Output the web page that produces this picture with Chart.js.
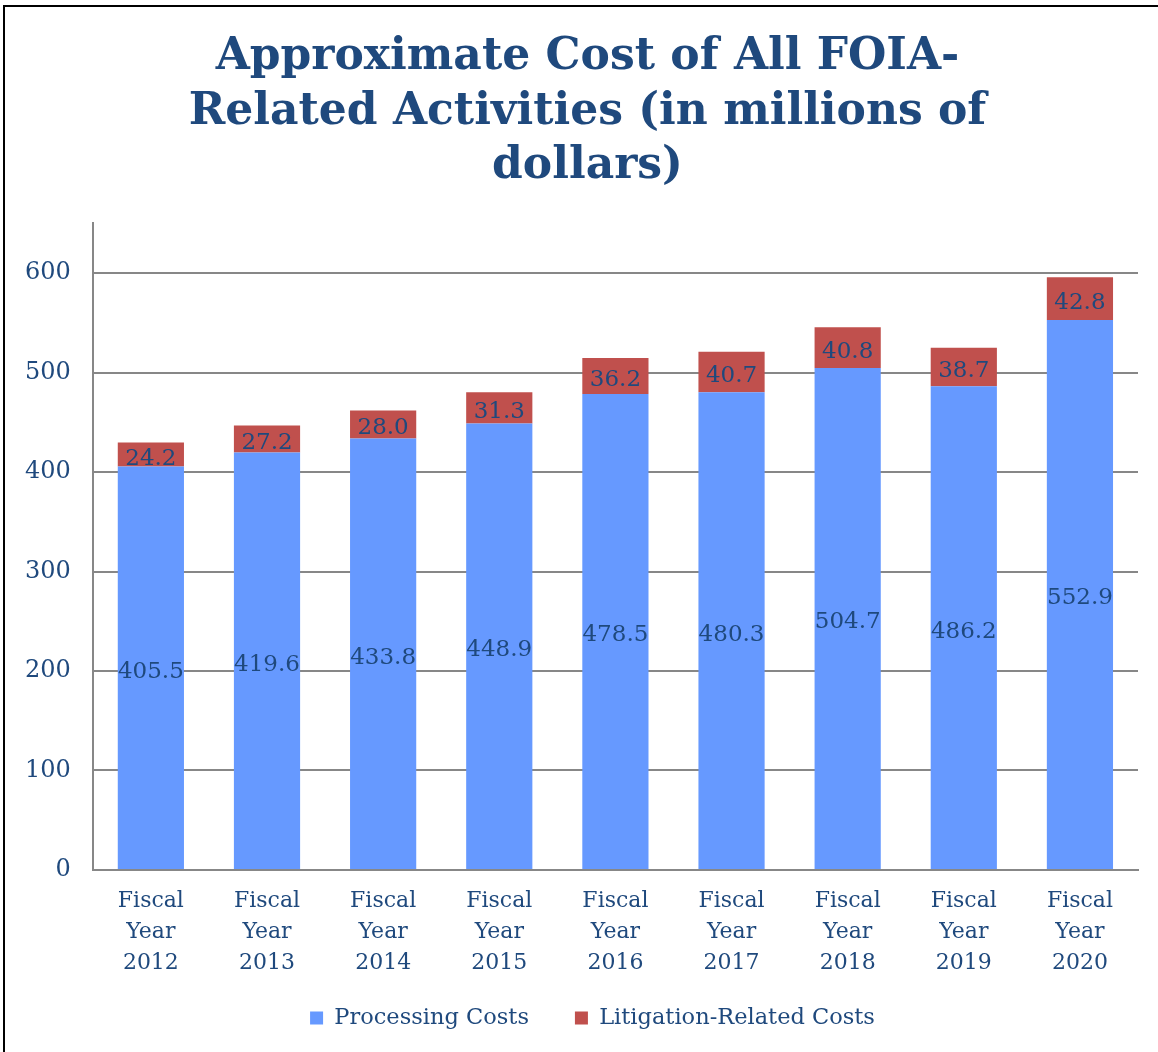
<!DOCTYPE html>
<html>
<head>
<meta charset="utf-8">
<script src="https://cdn.jsdelivr.net/npm/chart.js@4"></script>
<style>
  html, body { margin: 0; padding: 0; background: #fff; }
  #wrap { position: relative; width: 1158px; height: 1052px; }
  #frame { position: absolute; left: 3px; top: 5px; width: 1200px; height: 1100px; border: 2px solid #000; pointer-events: none; }
</style>
</head>
<body>
<div id="wrap">
  <canvas id="grafico" width="1158" height="1052"></canvas>
  <div id="frame"></div>
</div>
<script>
const anos = [
  ['Fiscal', 'Year', '2012'], ['Fiscal', 'Year', '2013'], ['Fiscal', 'Year', '2014'],
  ['Fiscal', 'Year', '2015'], ['Fiscal', 'Year', '2016'], ['Fiscal', 'Year', '2017'],
  ['Fiscal', 'Year', '2018'], ['Fiscal', 'Year', '2019'], ['Fiscal', 'Year', '2020']
];
const processamento = [405.5, 419.6, 433.8, 448.9, 478.5, 480.3, 504.7, 486.2, 552.9];
const litigio = [24.2, 27.2, 28.0, 31.3, 36.2, 40.7, 40.8, 38.7, 42.8];
const tituloLinhas = ['Approximate Cost of All FOIA-', 'Related Activities (in millions of', 'dollars)'];

const corTexto = '#1F497D';
const fonte = "'DejaVu Serif', Georgia, serif";

// desenha os valores no meio de cada segmento
const rotulosPlugin = {
  id: 'rotulos',
  afterDatasetsDraw(chart) {
    const ctx = chart.ctx;
    ctx.save();
    ctx.font = '23px ' + fonte;
    ctx.fillStyle = corTexto;
    ctx.textAlign = 'center';
    ctx.textBaseline = 'middle';
    chart.data.datasets.forEach((ds, i) => {
      const meta = chart.getDatasetMeta(i);
      meta.data.forEach((el, j) => {
        const p = el.getProps(['x', 'y', 'base'], true);
        ctx.fillText(ds.data[j].toFixed(1), p.x, (p.y + p.base) / 2 + 4);
      });
    });
    ctx.restore();
  }
};

// legenda: espaço horizontal grande entre itens, mas altura pequena no layout
const ajusteLayout = {
  id: 'ajusteLayout',
  afterInit(chart) {
    const lg = chart.legend;
    const fitOriginal = lg.fit;
    lg.fit = function () { fitOriginal.call(this); this.height = 45; };
  },
  afterLayout(chart) {
    const lg = chart.legend;
    lg.left += 22; lg.right += 22;
    lg.top = 960.75; lg.bottom = chart.height;
    const tb = chart.titleBlock;
    tb.left += 17; tb.right += 17;
  }
};

new Chart(document.getElementById('grafico'), {
  type: 'bar',
  data: {
    labels: anos,
    datasets: [
      { label: 'Processing Costs', data: processamento, backgroundColor: '#6699FF', barPercentage: 0.57, categoryPercentage: 1 },
      { label: 'Litigation-Related Costs', data: litigio, backgroundColor: '#C0504D', barPercentage: 0.57, categoryPercentage: 1 }
    ]
  },
  options: {
    responsive: false,
    animation: false,
    layout: { padding: { left: 3, right: 20, top: 20, bottom: 12 } },
    plugins: {
      title: {
        display: true,
        text: tituloLinhas,
        color: corTexto,
        font: { family: fonte, size: 44, weight: 'bold', lineHeight: 1.23 },
        padding: { top: 11, bottom: 30 }
      },
      legend: {
        position: 'bottom',
        labels: {
          color: corTexto,
          font: { family: fonte, size: 22.5 },
          boxWidth: 13,
          boxHeight: 13,
          padding: 46
        }
      },
      tooltip: { enabled: false }
    },
    scales: {
      x: {
        stacked: true,
        grid: { display: false, drawTicks: false },
        border: { color: '#878787', width: 2 },
        ticks: { color: corTexto, font: { family: fonte, size: 22, lineHeight: 1.41 }, padding: 16, maxRotation: 0 }
      },
      y: {
        stacked: true,
        min: 0,
        max: 650,
        afterBuildTicks: axis => { axis.ticks = axis.ticks.filter(t => t.value <= 600); },
        grid: { color: '#878787', lineWidth: 2, drawTicks: false },
        border: { color: '#878787', width: 2 },
        ticks: { stepSize: 100, color: corTexto, font: { family: fonte, size: 24 }, padding: 22 }
      }
    }
  },
  plugins: [rotulosPlugin, ajusteLayout]
});
</script>
</body>
</html>
